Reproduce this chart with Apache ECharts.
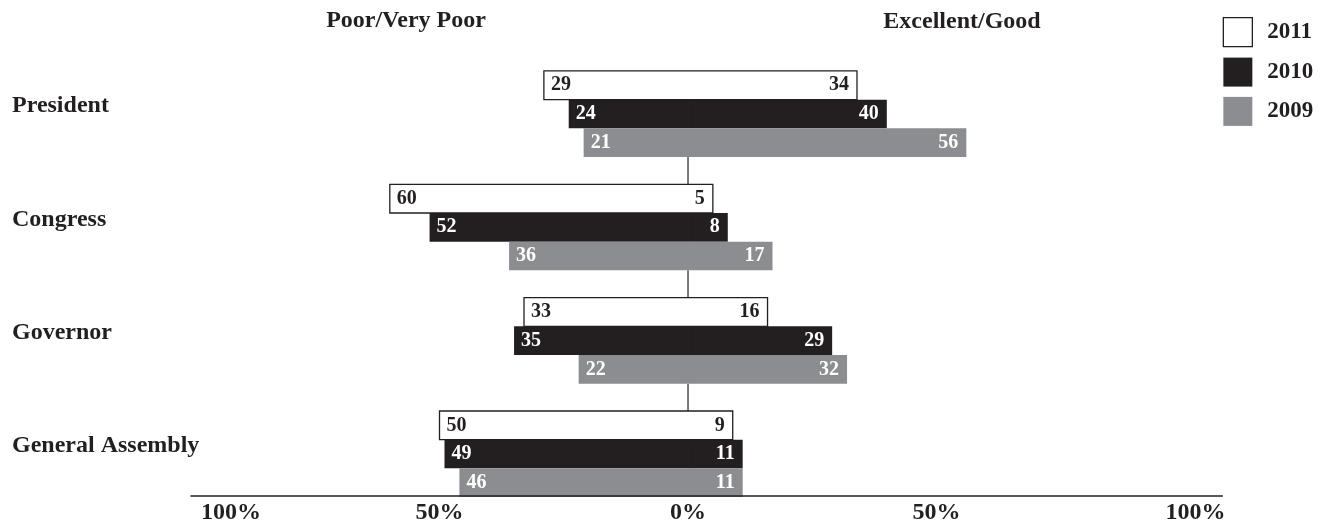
<!DOCTYPE html>
<html>
<head>
<meta charset="utf-8">
<title>Ratings of elected officials</title>
<script src="https://cdn.jsdelivr.net/npm/echarts@6/dist/echarts.min.js"></script>
<style>
  html, body { margin: 0; padding: 0; background: #ffffff; }
  #chart { width: 1337px; height: 529px; }
</style>
</head>
<body>
<div id="chart"></div>
<script>
// Rated offices, top to bottom
var offices = ['President', 'Congress', 'Governor', 'General Assembly'];
var years = ['2011', '2010', '2009'];

// Share rating each office Poor/Very Poor (drawn to the left of 0)
var poor2011 = [29, 60, 33, 50];
var poor2010 = [24, 52, 35, 49];
var poor2009 = [21, 36, 22, 46];

// Share rating each office Excellent/Good (drawn to the right of 0)
var good2011 = [34, 5, 16, 9];
var good2010 = [40, 8, 29, 11];
var good2009 = [56, 17, 32, 11];

// Axis ticks and their labels
var tickValues = [-100, -50, 0, 50, 100];
var tickLabels = ['100%', '50%', '0%', '50%', '100%'];

var INK = '#231f20';
var GREY = '#8c8d90';
var FONT = '"Liberation Serif", "DejaVu Serif", serif';
var BAR_SHARE = 0.253;   // each bar's share of a category band

var yearStyles = {
  '2011': { fill: '#ffffff', text: INK },
  '2010': { fill: INK, text: '#ffffff' },
  '2009': { fill: GREY, text: '#ffffff' }
};
var poorByYear = { '2011': poor2011, '2010': poor2010, '2009': poor2009 };
var goodByYear = { '2011': good2011, '2010': good2010, '2009': good2009 };

function valueLabel(pos, dist, color) {
  return {
    show: true,
    position: pos,
    distance: dist,
    color: color,
    fontFamily: FONT,
    fontWeight: 'bold',
    fontSize: 20,
    formatter: function (p) { return Math.abs(p.value); }
  };
}

var series = [];

// Zero line linking one group of bars to the next
var gaps = offices.slice(1).map(function (o, i) { return [0, i, i + 1]; });
series.push({
  type: 'custom',
  silent: true,
  z: 1,
  encode: { x: 0, y: [1, 2] },
  data: gaps,
  renderItem: function (params, api) {
    var a = api.coord([0, api.value(1)]);
    var b = api.coord([0, api.value(2)]);
    var half = api.size([0, 1])[1] * BAR_SHARE * 1.5;
    return {
      type: 'line',
      shape: { x1: a[0], y1: a[1] + half, x2: a[0], y2: b[1] - half },
      style: { stroke: INK, lineWidth: 1.2 }
    };
  }
});

// One stack per year; the first stack sits at the top of each group
years.forEach(function (y) {
  var st = yearStyles[y];
  var stackId = 'year-' + y;
  series.push({
    name: y,
    type: 'bar',
    stack: stackId,
    z: 2,
    barWidth: (BAR_SHARE * 100) + '%',
    barGap: '0%',
    itemStyle: { color: st.fill },
    label: valueLabel('insideLeft', 7, st.text),
    data: poorByYear[y].map(function (v) { return -v; })
  });
  series.push({
    name: y,
    type: 'bar',
    stack: stackId,
    z: 2,
    barWidth: (BAR_SHARE * 100) + '%',
    barGap: '0%',
    itemStyle: { color: st.fill },
    label: valueLabel('insideRight', 8, st.text),
    data: goodByYear[y]
  });
});

// Outline around each whole 2011 bar (both sides as one box)
series.push({
  type: 'custom',
  silent: true,
  z: 3,
  encode: { x: [1, 2], y: 0 },
  data: poor2011.map(function (v, i) { return [i, -v, good2011[i]]; }),
  renderItem: function (params, api) {
    var idx = api.value(0);
    var left = api.coord([api.value(1), idx]);
    var right = api.coord([api.value(2), idx]);
    var bw = api.size([0, 1])[1] * BAR_SHARE;
    var yTop = left[1] - 1.5 * bw;
    return {
      type: 'rect',
      shape: { x: left[0], y: yTop, width: right[0] - left[0], height: bw },
      style: { fill: null, stroke: INK, lineWidth: 1.3 }
    };
  }
});

var chart = echarts.init(document.getElementById('chart'), null, { renderer: 'canvas' });
chart.setOption({
  animation: false,
  backgroundColor: '#ffffff',
  textStyle: { fontFamily: FONT, color: INK },
  grid: { left: 191, right: 114.7, top: 57.3, bottom: 18.3, containLabel: false },
  legend: {
    orient: 'vertical',
    left: 1222.7,
    top: 17,
    padding: 0,
    itemWidth: 29,
    itemHeight: 29,
    itemGap: 10.3,
    icon: 'rect',
    selectedMode: false,
    textStyle: { fontFamily: FONT, fontWeight: 'bold', fontSize: 23, color: INK, padding: [0, 0, 0, 10] },
    data: [
      { name: '2011', itemStyle: { color: '#ffffff', borderColor: INK, borderWidth: 1.3 } },
      { name: '2010', itemStyle: { color: INK } },
      { name: '2009', itemStyle: { color: GREY } }
    ]
  },
  graphic: [
    {
      type: 'text', x: 406, y: 21,
      style: { text: 'Poor/Very Poor', fontFamily: FONT, fontWeight: 'bold', fontSize: 24, fill: INK,
               align: 'center', verticalAlign: 'middle' }
    },
    {
      type: 'text', x: 962, y: 22,
      style: { text: 'Excellent/Good', fontFamily: FONT, fontWeight: 'bold', fontSize: 24, fill: INK,
               align: 'center', verticalAlign: 'middle' }
    }
  ],
  xAxis: {
    type: 'value',
    min: -100,
    max: 107.5,
    interval: 50,
    offset: -14.7,
    z: 5,
    splitLine: { show: false },
    axisTick: { show: false },
    axisLine: { show: true, lineStyle: { color: INK, width: 1.5 } },
    axisLabel: {
      margin: 5,
      fontFamily: FONT,
      fontWeight: 'bold',
      fontSize: 24,
      color: INK,
      formatter: function (v) {
        var i = tickValues.indexOf(v);
        if (i < 0) return '';
        if (i === 0) return '{first|' + tickLabels[i] + '}';
        if (i === tickValues.length - 1) return '{last|' + tickLabels[i] + '}';
        return tickLabels[i];
      },
      rich: {
        first: { fontFamily: FONT, fontWeight: 'bold', fontSize: 24, color: INK, padding: [0, 0, 0, 80] },
        last: { fontFamily: FONT, fontWeight: 'bold', fontSize: 24, color: INK, padding: [0, 0, 0, 21] }
      }
    }
  },
  yAxis: {
    type: 'category',
    inverse: true,
    data: offices,
    axisLine: { show: false },
    axisTick: { show: false },
    splitLine: { show: false },
    axisLabel: {
      align: 'left',
      verticalAlign: 'bottom',
      lineHeight: 16,
      margin: 179,
      fontFamily: FONT,
      fontWeight: 'bold',
      fontSize: 24,
      color: INK
    }
  },
  series: series
});
</script>
</body>
</html>
